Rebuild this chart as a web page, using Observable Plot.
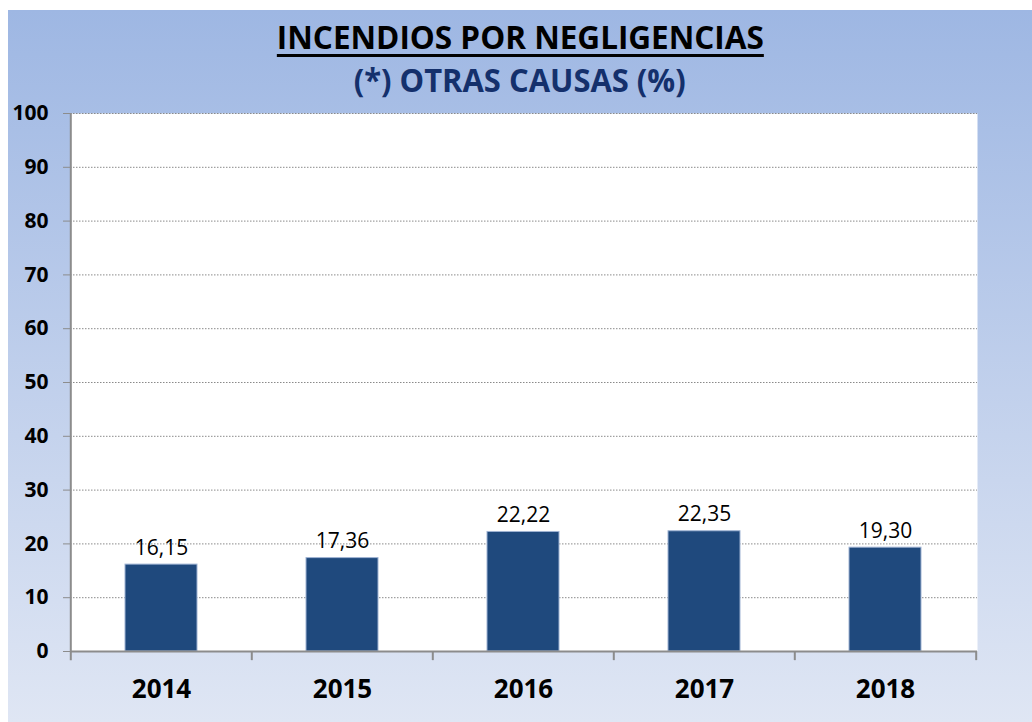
<!DOCTYPE html>
<html>
<head>
<meta charset="utf-8">
<script src="https://cdn.jsdelivr.net/npm/d3@7"></script>
<script src="https://cdn.jsdelivr.net/npm/@observablehq/plot@0.6"></script>
<style>
  html, body { margin: 0; padding: 0; background: #ffffff; }
  #panel {
    position: absolute; left: 8px; top: 10px; width: 1024px; height: 712px;
    background: linear-gradient(to bottom, #9eb7e3 0%, #c9d6ee 66%, #dfe6f4 100%);
    overflow: hidden;
  }
  .ttl {
    position: absolute; left: 0; width: 100%; text-align: center;
    font-family: "Open Sans", sans-serif; font-weight: bold; line-height: 1; white-space: nowrap;
  }
  .ttl span { display: inline-block; transform-origin: center; }
  #t1 { top: 10px; font-size: 33px; color: #000; }
  #t1 span { text-decoration: underline; text-decoration-thickness: 3px; text-underline-offset: 5px; }
  #t2 { top: 54px; font-size: 32px; color: #14306c; }
  #chart { position: absolute; left: 0; top: 0; }
</style>
</head>
<body>
<div id="panel">
  <div id="chart"></div>
  <div class="ttl" id="t1"><span>INCENDIOS POR NEGLIGENCIAS</span></div>
  <div class="ttl" id="t2"><span>(*) OTRAS CAUSAS (%)</span></div>
</div>
<script>
const years = ["2014", "2015", "2016", "2017", "2018"];
const values = [16.15, 17.36, 22.22, 22.35, 19.30];
const yTicks = [0, 10, 20, 30, 40, 50, 60, 70, 80, 90, 100];

const W = 1024, H = 712;
const mL = 62, mR = 55, mT = 103, mB = 71;
const step = (W - mL - mR) / years.length;
const axisGray = "#8c8c8c";
const fmt = v => d3.format(".2f")(v).replace(".", ",");
const idx = d3.range(years.length);

const chart = Plot.plot({
  width: W, height: H,
  marginLeft: mL, marginRight: mR, marginTop: mT, marginBottom: mB,
  style: { background: "transparent", fontFamily: "Open Sans", overflow: "visible", color: "black" },
  x: { domain: years, paddingInner: 0.6, paddingOuter: 0.3, label: null },
  y: { domain: [0, 100], label: null },
  marks: [
    Plot.frame({ fill: "white", stroke: "none" }),
    Plot.gridY(yTicks, { stroke: "#8a8a8a", strokeOpacity: 1, strokeDasharray: "1.5,1.5", strokeWidth: 1 }),
    Plot.barY(idx, { x: i => years[i], y: i => values[i], fill: "#1f497d", stroke: "#9fb3d3", strokeWidth: 1 }),
    Plot.ruleY([0], { stroke: axisGray, strokeWidth: 2 }),
    Plot.ruleX([years[0]], { x: d => d, y1: 100, y2: -1.7, dx: -step / 2, stroke: axisGray, strokeWidth: 2 }),
    Plot.ruleX(years.slice(1), { x: d => d, y1: 0, y2: -1.7, dx: -step / 2, stroke: axisGray, strokeWidth: 2 }),
    Plot.ruleX([years[years.length - 1]], { x: d => d, y1: 0, y2: -1.7, dx: step / 2, stroke: axisGray, strokeWidth: 2 }),
    Plot.axisY(yTicks, { tickSize: 7, tickPadding: 15, stroke: axisGray, fill: "black", fontSize: 21, fontWeight: "bold", label: null }),
    Plot.axisX({ tickSize: 0, tickPadding: 28, fill: "black", fontSize: 26, fontWeight: "bold", label: null }),
    Plot.text(idx, { x: i => years[i], y: i => values[i], text: i => fmt(values[i]), dy: -10, lineAnchor: "bottom", fontSize: 21, fill: "black" })
  ]
});
document.getElementById("chart").appendChild(chart);

function fit(id, target) {
  const s = document.querySelector("#" + id + " span");
  const w = s.getBoundingClientRect().width;
  s.style.transform = "scaleX(" + (target / w) + ")";
}
fit("t1", 487);
fit("t2", 332);
</script>
</body>
</html>
